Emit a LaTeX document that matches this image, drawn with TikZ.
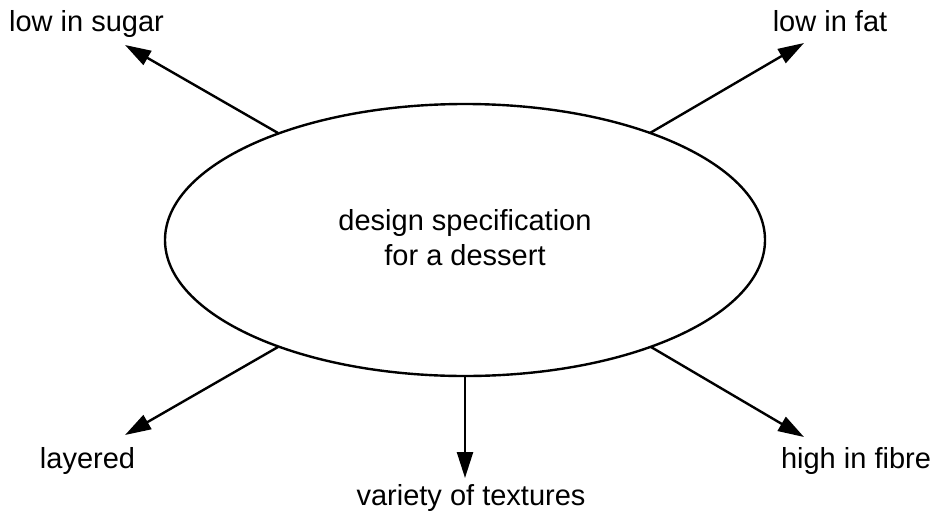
\documentclass[tikz,border=0pt]{standalone}
\usepackage{fontspec}
\setmainfont{Liberation Sans}
\usetikzlibrary{arrows.meta,shapes.geometric}
\begin{document}
\begin{tikzpicture}[x=0.5pt,y=-0.5pt,
  lbl/.style={anchor=base,inner sep=0pt,font=\fontsize{14.5}{17.5}\selectfont},
  arr/.style={line width=1.2pt,-{Triangle[length=13pt,width=8pt]}},
  oval/.style={draw,line width=1.2pt,ellipse,minimum width=300pt,minimum height=136pt,inner sep=0pt}]
\useasboundingbox (0,0) rectangle (936,520);
\node[oval] (e) at (465,240) {};
\node[lbl] (c1) at (465,230) {design specification};
\node[lbl] (c2) at (465,265) {for a dessert};
\node[lbl] (sugar) at (86.5,31) {low in sugar};
\node[lbl] (fat) at (830,31) {low in fat};
\node[lbl] (lay) at (87.5,468) {layered};
\node[lbl] (tex) at (471,505) {variety of textures};
\node[lbl] (fib) at (856,468) {high in fibre};
\coordinate (s1) at (278,133); \coordinate (t1) at (125,45);
\coordinate (s2) at (650,133); \coordinate (t2) at (804,43);
\coordinate (s3) at (278,347); \coordinate (t3) at (125,435);
\coordinate (s4) at (465,376); \coordinate (t4) at (465,478);
\coordinate (s5) at (651,347); \coordinate (t5) at (804,437);
\draw[arr] (s1) -- (t1);
\draw[arr] (s2) -- (t2);
\draw[arr] (s3) -- (t3);
\draw[arr] (s4) -- (t4);
\draw[arr] (s5) -- (t5);
\end{tikzpicture}
\end{document}
